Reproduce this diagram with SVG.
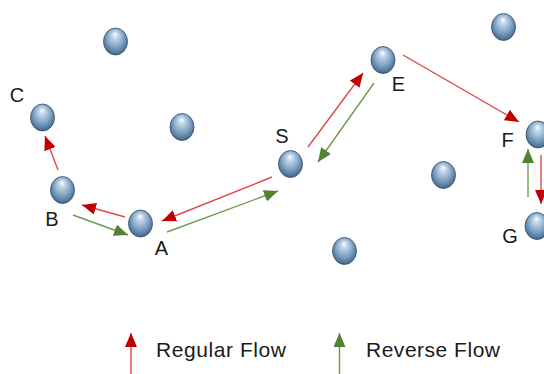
<svg xmlns="http://www.w3.org/2000/svg" width="544" height="374" viewBox="0 0 544 374">
<style>
.lbl{font-family:"Liberation Sans",Arial,sans-serif;font-size:20px;fill:#1a1a1a;text-anchor:middle}
.leg{font-family:"Liberation Sans",Arial,sans-serif;font-size:21px;fill:#1a1a1a}
.red{stroke:#e0484a;stroke-width:1.4;fill:none;marker-end:url(#ar)}
.grn{stroke:#6e9a4c;stroke-width:1.4;fill:none;marker-end:url(#ag)}
.ball{fill:url(#bg);stroke:#34516e;stroke-width:0.8}
</style>
<defs>
<radialGradient id="bg" cx="0.5" cy="0.45" r="0.6" fx="0.48" fy="0.22">
<stop offset="0" stop-color="#ffffff"/>
<stop offset="0.2" stop-color="#c4d8ec"/>
<stop offset="0.55" stop-color="#86a8c8"/>
<stop offset="0.85" stop-color="#52769a"/>
<stop offset="1" stop-color="#2f4a66"/>
</radialGradient>
<marker id="ar" viewBox="0 0 14 12" refX="14" refY="6" markerWidth="14" markerHeight="12" markerUnits="userSpaceOnUse" orient="auto">
<path d="M0,0 L14,6 L0,12 z" fill="#c00000"/>
</marker>
<marker id="ag" viewBox="0 0 14 12" refX="14" refY="6" markerWidth="14" markerHeight="12" markerUnits="userSpaceOnUse" orient="auto">
<path d="M0,0 L14,6 L0,12 z" fill="#548235"/>
</marker>
</defs>
<rect width="544" height="374" fill="#ffffff"/>
<g id="connectors">
<line class="red" x1="58" y1="170" x2="45" y2="136"/>
<line class="red" x1="125" y1="217" x2="82" y2="205"/>
<line class="grn" x1="73" y1="215" x2="128" y2="235"/>
<line class="red" x1="272" y1="177" x2="162" y2="221"/>
<line class="grn" x1="167" y1="232" x2="278" y2="191"/>
<line class="red" x1="308" y1="147" x2="363" y2="73"/>
<line class="grn" x1="374" y1="83" x2="318" y2="162"/>
<line class="red" x1="403" y1="55" x2="519" y2="122"/>
<line class="red" x1="541" y1="155" x2="541" y2="204"/>
<line class="grn" x1="528" y1="197" x2="528" y2="149"/>
</g>
<g id="n1"><ellipse class="ball" cx="115.5" cy="41.5" rx="12" ry="13.5"/></g>
<g id="nC"><ellipse class="ball" cx="42.5" cy="117.5" rx="12" ry="13.5"/><text class="lbl" x="17" y="102">C</text></g>
<g id="n2"><ellipse class="ball" cx="182" cy="127" rx="12" ry="13.5"/></g>
<g id="nB"><ellipse class="ball" cx="62.5" cy="190" rx="12" ry="13.5"/><text class="lbl" x="52" y="226">B</text></g>
<g id="nA"><ellipse class="ball" cx="140.5" cy="223.5" rx="12" ry="13.5"/><text class="lbl" x="161.5" y="255">A</text></g>
<g id="nS"><ellipse class="ball" cx="290.5" cy="164" rx="12" ry="13.5"/><text class="lbl" x="282" y="143">S</text></g>
<g id="nE"><ellipse class="ball" cx="383" cy="60" rx="12" ry="13.5"/><text class="lbl" x="398.5" y="91">E</text></g>
<g id="n3"><ellipse class="ball" cx="503.5" cy="27" rx="12" ry="13.5"/></g>
<g id="nF"><ellipse class="ball" cx="538" cy="134.5" rx="12" ry="13.5"/><text class="lbl" x="507.5" y="147">F</text></g>
<g id="n4"><ellipse class="ball" cx="443.5" cy="175" rx="12" ry="13.5"/></g>
<g id="nG"><ellipse class="ball" cx="537" cy="226" rx="12" ry="13.5"/><text class="lbl" x="510" y="243">G</text></g>
<g id="n5"><ellipse class="ball" cx="344.5" cy="251" rx="12" ry="13.5"/></g>
<g id="legend">
<line class="red" x1="131" y1="374" x2="131" y2="333"/>
<text class="leg" x="156" y="357" textLength="130" lengthAdjust="spacing">Regular Flow</text>
<line class="grn" x1="339.5" y1="374" x2="339.5" y2="333"/>
<text class="leg" x="366" y="357" textLength="134" lengthAdjust="spacing">Reverse Flow</text>
</g>
</svg>
